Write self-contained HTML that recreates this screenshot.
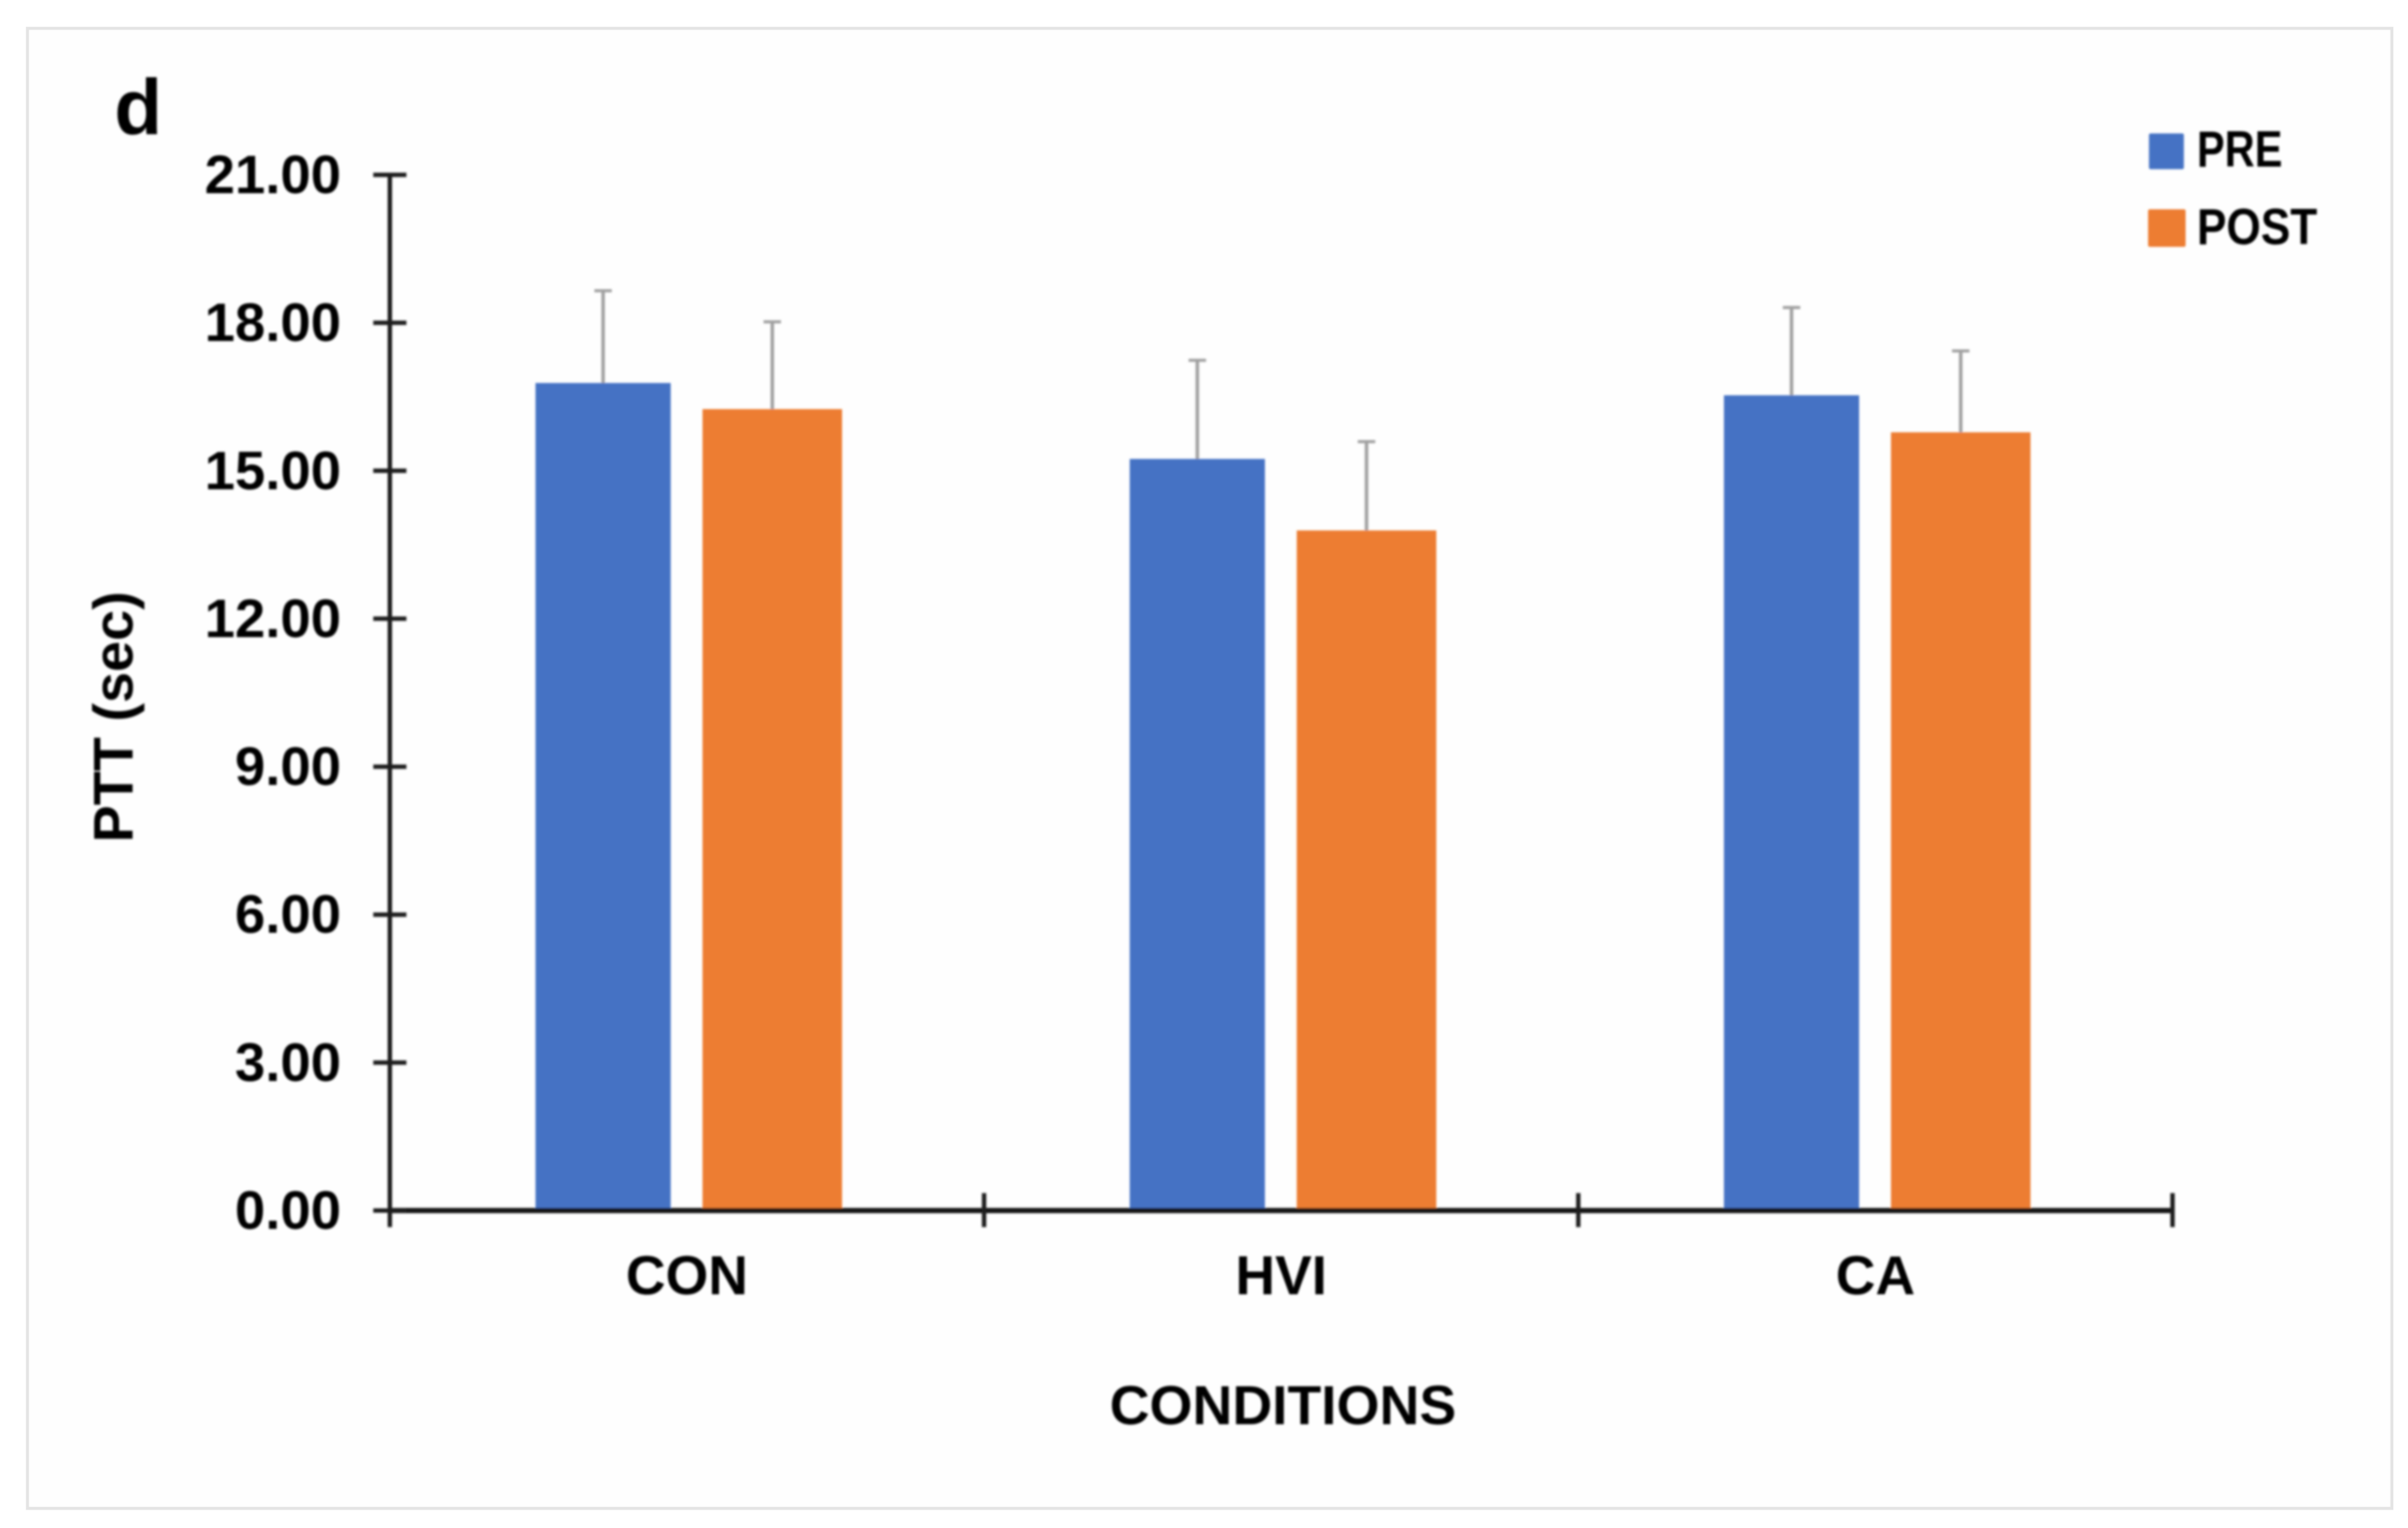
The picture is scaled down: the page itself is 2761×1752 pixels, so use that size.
<!DOCTYPE html>
<html lang="en">
<head>
<meta charset="utf-8">
<title>PTT by condition</title>
<style>
  html, body { margin: 0; padding: 0; background: #ffffff; }
  #chart { display: block; width: 2761px; height: 1752px; }
  text { font-family: "Liberation Sans", sans-serif; font-weight: bold; fill: #000000; }
</style>
</head>
<body>
<svg id="chart" xmlns="http://www.w3.org/2000/svg" width="2761" height="1752" viewBox="0 0 2761 1752">
  <defs><filter id="soft" x="-2%" y="-2%" width="104%" height="104%"><feGaussianBlur stdDeviation="1.4"/></filter></defs>
  <rect x="31.5" y="32.5" width="2711" height="1697" fill="#fefefe" stroke="#e4e4e4" stroke-width="3.5"/>
  <g id="plot" filter="url(#soft)">
    <text x="131" y="154" font-size="90">d</text>
    <text transform="translate(152 822) rotate(-90)" text-anchor="middle" font-size="64">PTT (sec)</text>
    <text x="1471" y="1633" text-anchor="middle" font-size="63.3">CONDITIONS</text>
    <g id="bars"></g>
    <g id="axes"></g>
    <rect x="2464" y="153" width="40" height="41" rx="2" fill="#4472C4"/>
    <text x="2519" y="191" font-size="58" textLength="98" lengthAdjust="spacingAndGlyphs">PRE</text>
    <rect x="2463" y="240" width="43" height="43" rx="2" fill="#ED7D31"/>
    <text x="2519" y="280" font-size="58" textLength="138" lengthAdjust="spacingAndGlyphs">POST</text>
  </g>
</svg>
<script>
const categories = ['CON', 'HVI', 'CA'];
const preValues = [16.78, 15.24, 16.53];
const postValues = [16.25, 13.79, 15.78];
const preErrors = [1.87, 2.0, 1.78];
const postErrors = [1.77, 1.8, 1.65];
const yTickValues = [0, 3, 6, 9, 12, 15, 18, 21];
const yTickLabels = ['0.00', '3.00', '6.00', '9.00', '12.00', '15.00', '18.00', '21.00'];

const NS = 'http://www.w3.org/2000/svg';
const axisLeft = 447;
const axisBottom = 1388;
const axisTop = 200.5;
const axisRight = 2491;
const yMax = 21;

function yScale(v) {
  return axisBottom - (v / yMax) * (axisBottom - axisTop);
}
function bandStart(i) {
  return axisLeft + i * (axisRight - axisLeft) / categories.length;
}
function bandCenter(i) {
  return bandStart(i) + (axisRight - axisLeft) / categories.length / 2;
}
function makeEl(tag, parent) {
  const el = document.createElementNS(NS, tag);
  parent.appendChild(el);
  return el;
}
function setAttrs(el, attrs) {
  for (const k in attrs) el.setAttribute(k, attrs[k]);
}

const barsG = document.getElementById('bars');
const axesG = document.getElementById('axes');

function drawSeries(values, errors, offset, width, color, label) {
  values.forEach(function (v, i) {
    const x = bandStart(i) + offset;
    const top = yScale(v);
    const cx = x + width / 2;
    const errTop = yScale(v + errors[i]);

    const stem = makeEl('line', barsG);
    
    
    setAttrs(stem, { x1: cx, x2: cx, y1: top, y2: errTop, stroke: '#a0a0a0', 'stroke-width': 4 });

    const cap = makeEl('line', barsG);
    
    
    setAttrs(cap, { x1: cx - 10, x2: cx + 10, y1: errTop, y2: errTop, stroke: '#a0a0a0', 'stroke-width': 3.5 });

    const bar = makeEl('rect', barsG);
    
    
    setAttrs(bar, { x: x, y: top, width: width, height: axisBottom - top, fill: color });
  });
}
drawSeries(preValues, preErrors, 167, 155, '#4472C4', 'pre');
drawSeries(postValues, postErrors, 358.5, 160, '#ED7D31', 'post');

const yAxisLine = makeEl('line', axesG);


setAttrs(yAxisLine, { x1: axisLeft, x2: axisLeft, y1: axisTop, y2: axisBottom, stroke: '#1c1c1c', 'stroke-width': 5 });

const xAxisLine = makeEl('line', axesG);


setAttrs(xAxisLine, { x1: axisLeft, x2: axisRight, y1: axisBottom, y2: axisBottom, stroke: '#141414', 'stroke-width': 6 });

yTickValues.forEach(function (v, i) {
  const y = yScale(v);
  const tick = makeEl('line', axesG);
  
  
  setAttrs(tick, { x1: axisLeft - 19, x2: axisLeft + 19, y1: y, y2: y, stroke: '#1c1c1c', 'stroke-width': 5 });

  const t = makeEl('text', axesG);
  
  
  setAttrs(t, { x: 391, y: y + 21, 'text-anchor': 'end', 'font-size': 62.5 });
  t.textContent = yTickLabels[i];
});

for (let i = 0; i <= categories.length; i++) {
  const x = bandStart(i);
  const tick = makeEl('line', axesG);
  
  
  setAttrs(tick, { x1: x, x2: x, y1: axisBottom - 20, y2: axisBottom + 19, stroke: '#1c1c1c', 'stroke-width': 5 });
}

categories.forEach(function (c, i) {
  const t = makeEl('text', axesG);
  
  
  setAttrs(t, { x: bandCenter(i), y: 1484, 'text-anchor': 'middle', 'font-size': 63 });
  t.textContent = c;
});
</script>
</body>
</html>
